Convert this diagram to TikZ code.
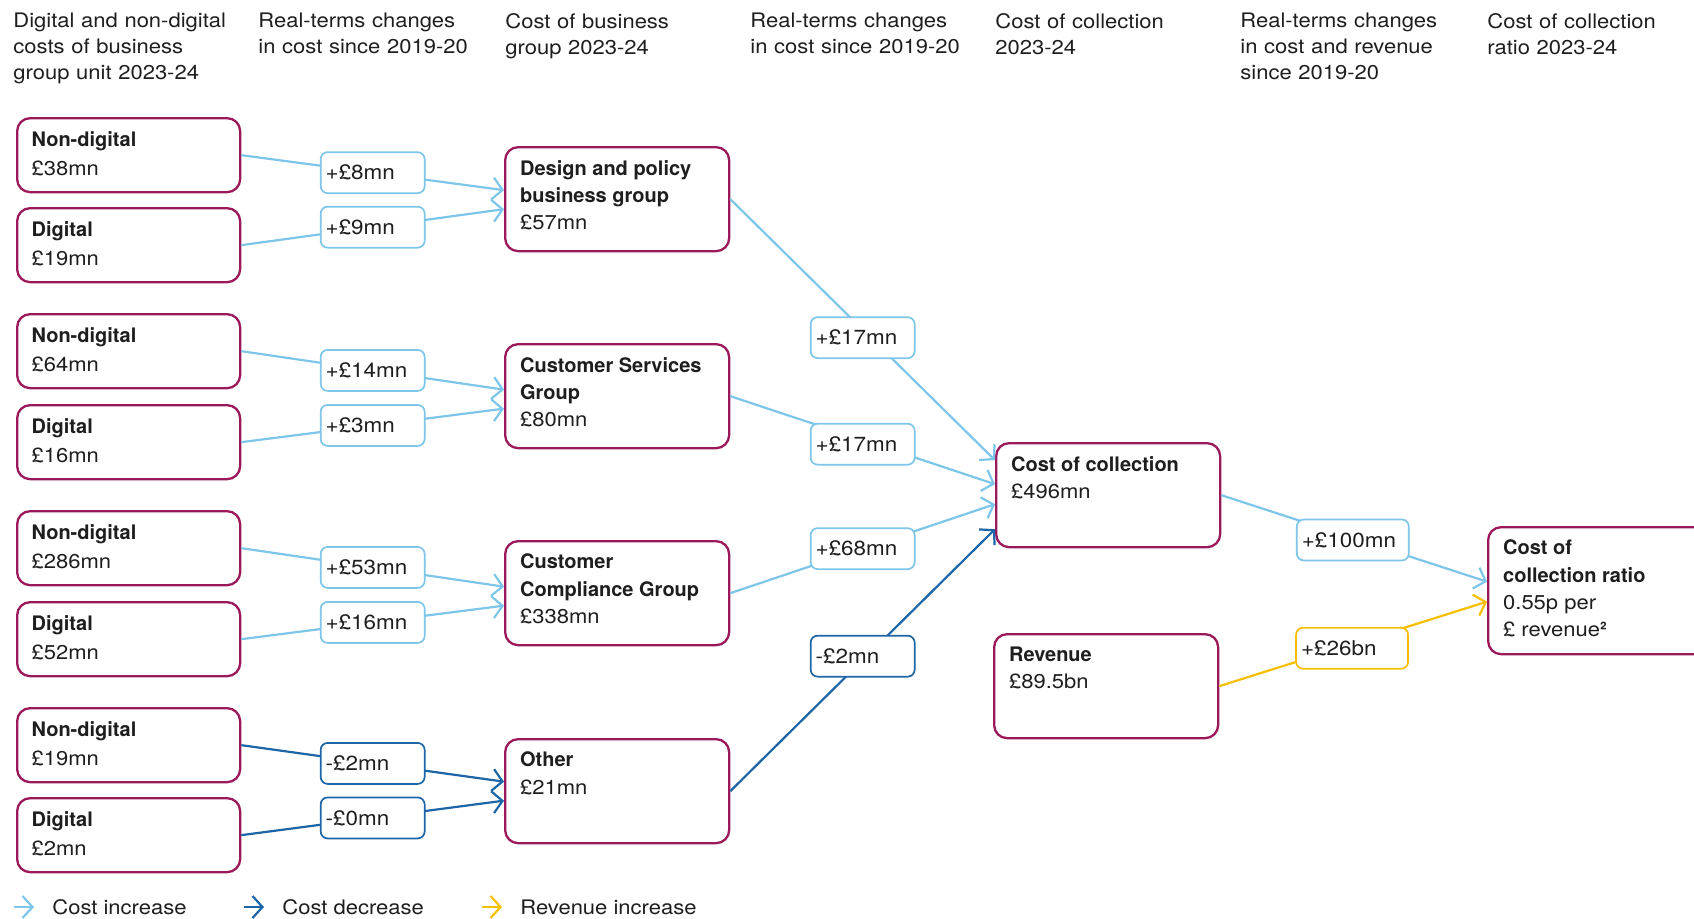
\documentclass[tikz,border=0pt]{standalone}
\usepackage{fontspec}
\setmainfont{TeX Gyre Heros}[FakeStretch=1.1, BoldFont={TeX Gyre Heros Bold}, BoldFeatures={FakeStretch=1.0}]
\usetikzlibrary{arrows.meta}

\definecolor{maroon}{RGB}{155,25,90}
\definecolor{lightblue}{RGB}{125,198,234}
\definecolor{darkblue}{RGB}{28,102,168}
\definecolor{amber}{RGB}{246,190,0}
\definecolor{ink}{RGB}{30,30,30}

% top aligned box text: height, bold title, value
\newcommand{\boxtext}[3]{\parbox[t][#1][t]{97pt}{\raggedright\textbf{#2}\\#3}}

\tikzset{
  heading/.style  = { anchor=north west, inner sep=0pt, text width=115pt, align=left, text=ink, font=\fontsize{10}{13}\selectfont },
  unit/.style     = { draw=maroon, line width=1.15pt, rounded corners=6.5pt, fill=white, anchor=north west, inner xsep=7pt, inner ysep=6.5pt, minimum width=111.5pt, text=ink, font=\fontsize{10}{14.5}\selectfont },
  group/.style    = { unit, minimum width=112pt, font=\fontsize{10}{13.6}\selectfont },
  change/.style   = { draw, line width=0.85pt, rounded corners=3.5pt, fill=white, minimum width=52pt, minimum height=20.5pt, text width=47pt, inner xsep=2.5pt, align=left, text=ink, font=\fontsize{10.2}{12}\selectfont },
  wide/.style     = { minimum width=56pt, text width=51pt },
  increase/.style = { lightblue, line width=1.1pt, -{Straight Barb[length=5pt,width=11pt]} },
  decrease/.style = { increase, darkblue },
  revenue/.style  = { increase, amber },
  legend/.style   = { anchor=west, inner sep=0pt, text=ink, font=\fontsize{10}{12}\selectfont },
}

\begin{document}
\begin{tikzpicture}[x=0.5pt,y=-0.5pt]
    \useasboundingbox (0,0) rectangle (1694,918);

    % Column headings
    \node[heading] (h1) at (13,13)   {Digital and non-digital\\costs of business\\group unit 2023-24};
    \node[heading] (h2) at (258,13)  {Real-terms changes\\in cost since 2019-20};
    \node[heading] (h3) at (505,13)  {Cost of business\\group 2023-24};
    \node[heading] (h4) at (750,13)  {Real-terms changes\\in cost since 2019-20};
    \node[heading] (h5) at (995,13)  {Cost of collection\\2023-24};
    \node[heading] (h6) at (1240,13) {Real-terms changes\\in cost and revenue\\since 2019-20};
    \node[heading] (h7) at (1487,13) {Cost of collection\\ratio 2023-24};

    % Business group units
    \node[unit] (nd1) at (16,117) {\boxtext{24pt}{Non-digital}{£38mn}};
    \node[unit] (d1)  at (16,207) {\boxtext{24pt}{Digital}{£19mn}};
    \node[unit] (nd2) at (16,313) {\boxtext{24pt}{Non-digital}{£64mn}};
    \node[unit] (d2)  at (16,404) {\boxtext{24pt}{Digital}{£16mn}};
    \node[unit] (nd3) at (16,510) {\boxtext{24pt}{Non-digital}{£286mn}};
    \node[unit] (d3)  at (16,601) {\boxtext{24pt}{Digital}{£52mn}};
    \node[unit] (nd4) at (16,707) {\boxtext{24pt}{Non-digital}{£19mn}};
    \node[unit] (d4)  at (16,797) {\boxtext{24pt}{Digital}{£2mn}};

    % Business groups
    \node[group] (design)  at (504,146) {\boxtext{39pt}{Design and policy\\business group}{£57mn}};
    \node[group] (service) at (504,343) {\boxtext{39pt}{Customer Services\\Group}{£80mn}};
    \node[group] (comply)  at (504,540) {\boxtext{39pt}{Customer\\Compliance Group}{£338mn}};
    \node[group] (other)   at (504,738) {\boxtext{39pt}{Other}{£21mn}};

    % Collection, revenue and ratio
    \node[group] (coc)   at (995,442)  {\boxtext{39pt}{Cost of collection}{£496mn}};
    \node[group] (rev)   at (993,633)  {\boxtext{39pt}{Revenue}{£89.5bn}};
    \node[group] (ratio) at (1487,526) {\boxtext{50.5pt}{Cost of\\collection ratio}{0.55p per\\£ revenue\textbf{²}}};

    % units -> groups
    \draw[increase] (nd1.east) -- node[change] (c1) {+£8mn}  ([yshift=4.5pt]design.west);
    \draw[increase] (d1.east)  -- node[change] (c2) {+£9mn}  ([yshift=-5pt]design.west);
    \draw[increase] (nd2.east) -- node[change] (c3) {+£14mn} ([yshift=3.25pt]service.west);
    \draw[increase] (d2.east)  -- node[change] (c4) {+£3mn}  ([yshift=-6.25pt]service.west);
    \draw[increase] (nd3.east) -- node[change] (c5) {+£53mn} ([yshift=3.25pt]comply.west);
    \draw[increase] (d3.east)  -- node[change] (c6) {+£16mn} ([yshift=-6.25pt]comply.west);
    \draw[decrease] (nd4.east) -- node[change] (c7) {-£2mn}  ([yshift=4.75pt]other.west);
    \draw[decrease] (d4.east)  -- node[change] (c8) {-£0mn}  ([yshift=-4.75pt]other.west);

    % groups -> cost of collection
    \draw[increase] (design.east)  -- node[change,yshift=-4pt] (c9)  {+£17mn} ([yshift=17.5pt]coc.west);
    \draw[increase] (service.east) -- node[change,yshift=-2pt] (c10) {+£17mn} ([yshift=5.5pt]coc.west);
    \draw[increase] (comply.east)  -- node[change] (c11) {+£68mn} ([yshift=-4.5pt]coc.west);
    \draw[decrease] (other.east)   -- node[change,yshift=2pt] (c12) {-£2mn} ([yshift=-17pt]coc.west);

    % cost and revenue -> ratio
    \draw[increase] (coc.east) -- node[change,wide,pos=0.495,yshift=-1pt] (c13) {+£100mn} ([yshift=4.5pt]ratio.west);
    \draw[revenue]  (rev.east) -- node[change,wide,pos=0.496,yshift=-2pt] (c14) {+£26bn}  ([yshift=-5.5pt]ratio.west);

    % Legend
    \coordinate (k1) at (14,907);  \coordinate (k1e) at (34,907);
    \coordinate (k2) at (244,907); \coordinate (k2e) at (264,907);
    \coordinate (k3) at (482,907); \coordinate (k3e) at (502,907);
    \draw[increase] (k1) -- (k1e);
    \draw[decrease] (k2) -- (k2e);
    \draw[revenue]  (k3) -- (k3e);
    \node[legend] (l1) at (52,907)  {Cost increase};
    \node[legend] (l2) at (282,907) {Cost decrease};
    \node[legend] (l3) at (520,907) {Revenue increase};
\end{tikzpicture}
\end{document}
